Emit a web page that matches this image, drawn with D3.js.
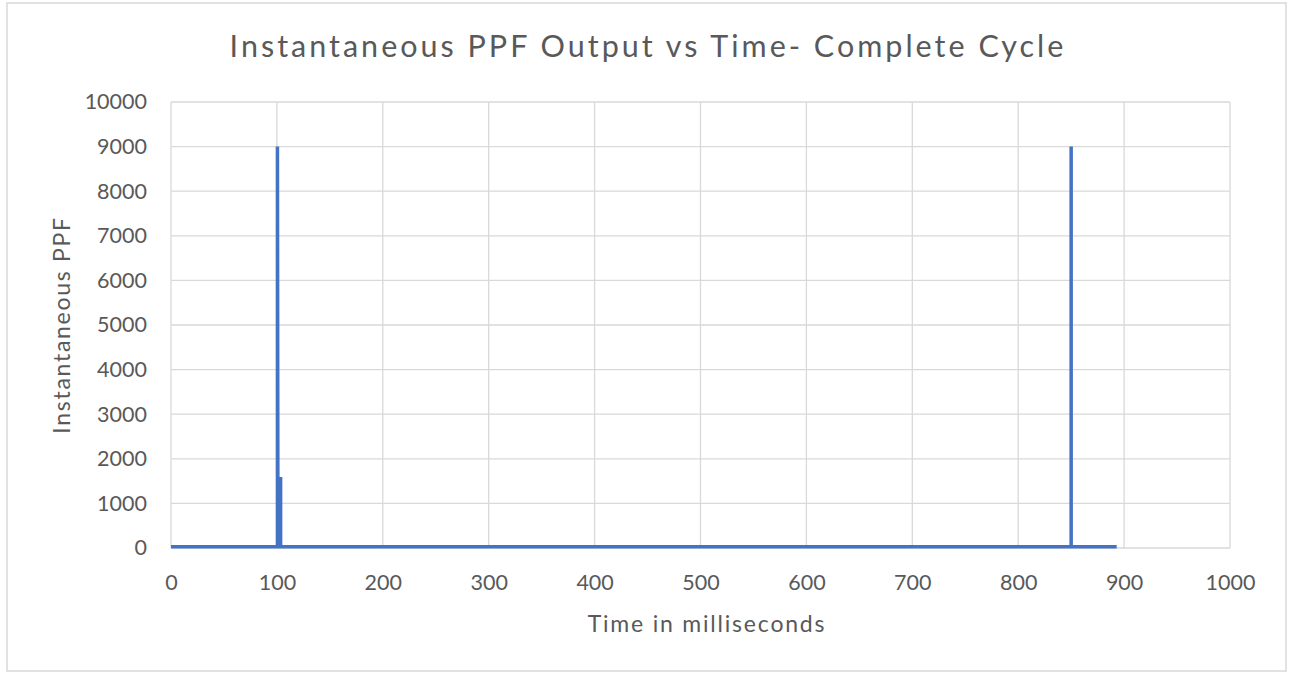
<!DOCTYPE html>
<html>
<head>
<meta charset="utf-8">
<script src="https://cdn.jsdelivr.net/npm/d3@7"></script>
<style>
  body { margin: 0; background: #fff; }
  svg { display: block; font-family: Lato, "Open Sans", sans-serif; }
</style>
</head>
<body>
<svg id="chart" width="1289" height="673"></svg>
<script>
// time (ms) and instantaneous PPF
const times = [0, 100.5, 100.5, 100.9, 103.5, 103.5, 850, 850, 850, 893];
const ppf   = [30, 30, 9000, 1550, 1550, 30, 30, 9000, 30, 30];
const xTicks = [0, 100, 200, 300, 400, 500, 600, 700, 800, 900, 1000];
const yTicks = [0, 1000, 2000, 3000, 4000, 5000, 6000, 7000, 8000, 9000, 10000];

const points = times.map((t, i) => ({ t, v: ppf[i] }));

const svg = d3.select("#chart");
const margin = { top: 102, right: 59, bottom: 125, left: 171 };
const width = +svg.attr("width");
const height = +svg.attr("height");

// outer border
svg.append("rect")
    .attr("x", 7).attr("y", 3)
    .attr("width", 1279).attr("height", 668)
    .attr("fill", "#fff")
    .attr("stroke", "#d9d9d9")
    .attr("stroke-width", 1.5);

const x = d3.scaleLinear()
    .domain([0, 1000])
    .range([margin.left, width - margin.right]);

const y = d3.scaleLinear()
    .domain([0, 10000])
    .range([height - margin.bottom, margin.top]);

// gridlines
svg.append("g")
    .selectAll("line")
    .data(yTicks)
    .enter()
    .append("line")
    .attr("x1", x(0)).attr("x2", x(1000))
    .attr("y1", d => y(d)).attr("y2", d => y(d))
    .attr("stroke", "#d9d9d9")
    .attr("stroke-width", 1.3);

svg.append("g")
    .selectAll("line")
    .data(xTicks)
    .enter()
    .append("line")
    .attr("x1", d => x(d)).attr("x2", d => x(d))
    .attr("y1", y(0)).attr("y2", y(10000))
    .attr("stroke", "#d9d9d9")
    .attr("stroke-width", 1.3);

// axes (labels only, Excel style)
const xAxis = svg.append("g")
    .attr("transform", `translate(0,${y(0)})`)
    .call(d3.axisBottom(x).tickValues(xTicks).tickSize(0).tickPadding(27).tickFormat(d3.format("d")));
xAxis.select(".domain").remove();

const yAxis = svg.append("g")
    .attr("transform", `translate(${x(0)},0)`)
    .call(d3.axisLeft(y).tickValues(yTicks).tickSize(0).tickPadding(24).tickFormat(d3.format("d")));
yAxis.select(".domain").remove();

svg.selectAll(".tick text")
    .attr("font-family", "Lato, 'Open Sans', sans-serif")
    .attr("font-size", 21.5)
    .attr("fill", "#595959");

// line
const line = d3.line()
    .x(d => x(d.t))
    .y(d => y(d.v));

svg.append("path")
    .datum(points)
    .attr("fill", "none")
    .attr("stroke", "#4472c4")
    .attr("stroke-width", 3.5)
    .attr("stroke-linejoin", "miter")
    .attr("d", line);

// titles
svg.append("text")
    .attr("x", 648).attr("y", 57)
    .attr("text-anchor", "middle")
    .attr("font-size", 30.5)
    .attr("letter-spacing", 3)
    .attr("fill", "#595959")
    .text("Instantaneous PPF Output vs Time- Complete Cycle");

svg.append("text")
    .attr("x", 707).attr("y", 632)
    .attr("text-anchor", "middle")
    .attr("font-size", 23)
    .attr("letter-spacing", 1.8)
    .attr("fill", "#595959")
    .text("Time in milliseconds");

svg.append("text")
    .attr("transform", `translate(70,${325}) rotate(-90)`)
    .attr("text-anchor", "middle")
    .attr("font-size", 23)
    .attr("letter-spacing", 1.7)
    .attr("fill", "#595959")
    .text("Instantaneous PPF");
</script>
</body>
</html>
